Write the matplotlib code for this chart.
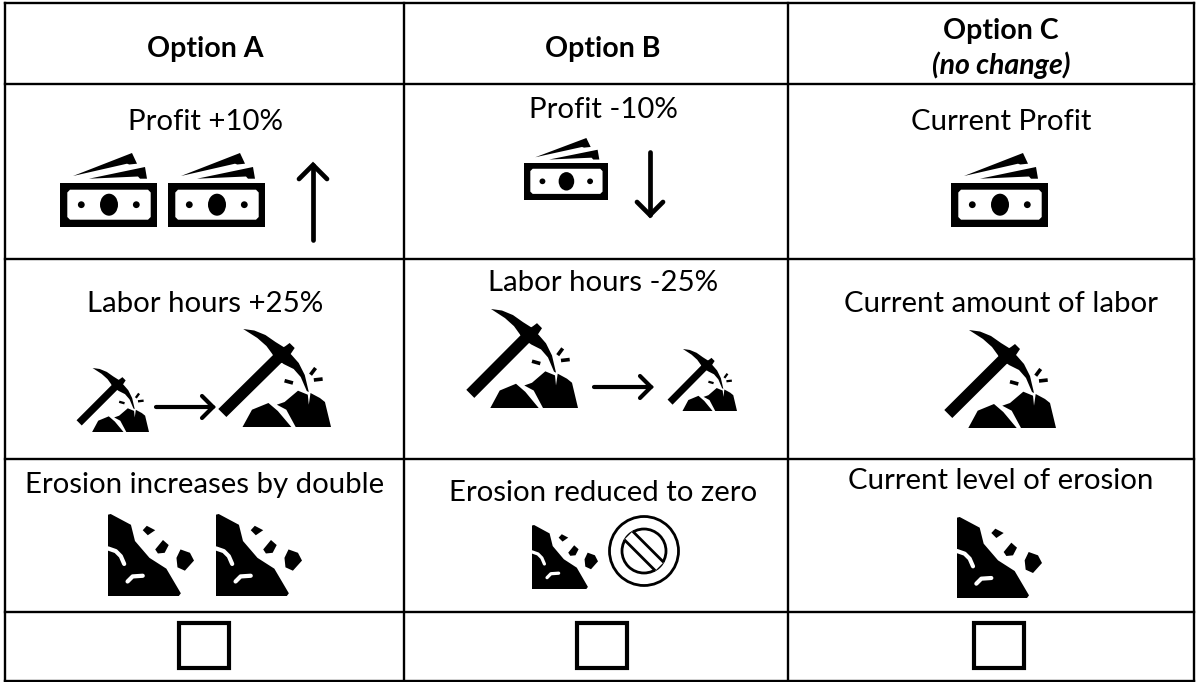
import matplotlib
matplotlib.use("Agg")
import matplotlib.pyplot as plt
from matplotlib.patches import Ellipse, Circle, Polygon, Rectangle

W, H = 1196, 682
plt.rcParams['font.family'] = ['Lato', 'Open Sans', 'DejaVu Sans']

# Table content
col_edges = [5, 404, 788, 1194]
row_edges = [3, 84, 259, 459, 612, 681]
headers = ["Option A", "Option B", "Option C"]
header_note = "(no change)"
cell_text = [
    ("Profit +10%", 205, 122), ("Profit -10%", 603, 110), ("Current Profit", 1001, 122),
    ("Labor hours +25%", 205, 304), ("Labor hours -25%", 603, 283), ("Current amount of labor", 1001, 304),
    ("Erosion increases by double", 205, 485), ("Erosion reduced to zero", 603, 493), ("Current level of erosion", 1001, 481),
]
# icon placements: left, top, width, height (pixels)
money_icons = [(60, 153, 97, 74), (168, 153, 97, 74), (524, 138, 84, 62), (951, 153, 97, 74)]
pick_icons = [(77, 368, 72, 64), (219, 329, 112, 98), (467, 309, 111, 99), (668, 349, 69, 62), (945, 330, 111, 98)]
erosion_icons = [(108, 514, 86, 82), (216, 514, 86, 82), (532, 525, 66, 64), (957, 517, 85, 81)]
v_arrows = [(313, 240, 165, 14), (650, 152, 215, 13)]
h_arrows = [(156, 213, 407), (594, 651, 387)]
no_sign = (644, 551, 34.5, 22)
checkboxes = [(179, 623, 50, 45), (577, 623, 50, 45), (974, 623, 50, 45)]

fig = plt.figure(figsize=(W / 100, H / 100), dpi=100)
ax = fig.add_axes([0, 0, 1, 1])
ax.set_xlim(0, W)
ax.set_ylim(H, 0)
ax.axis("off")
K = "black"


def mapper(box, uw, uh):
    x, y, w, h = box
    return lambda pts: [(x + px / uw * w, y + py / uh * h) for px, py in pts]


def poly(m, pts, color=K, z=3):
    ax.add_patch(Polygon(m(pts), closed=True, fc=color, ec="none", zorder=z))


def stroke(m, pts, lw, color=K, z=3, cap="round"):
    xs, ys = zip(*m(pts))
    ax.plot(xs, ys, color=color, lw=lw, solid_capstyle=cap, solid_joinstyle="round", zorder=z)


def money(box):
    m = mapper(box, 97, 74)
    x, y, w, h = box
    sx, sy = w / 97, h / 74
    poly(m, [(0, 30), (97, 30), (97, 74), (0, 74)])
    poly(m, [(10, 36.7), (88, 36.7), (90.7, 39.5), (90.7, 64), (88, 66.7), (10, 66.7), (7.3, 64), (7.3, 39.5)], "white", 4)
    for cx, rx, ry in [(49, 9, 11), (21.3, 3.4, 3.4), (76.3, 3.4, 3.4)]:
        ax.add_patch(Ellipse((x + cx * sx, y + 51.7 * sy), 2 * rx * sx, 2 * ry * sy, fc=K, ec="none", zorder=5))
    poly(m, [(13, 23), (72, 0), (77, 10.7), (69.3, 11.5), (67, 10.7)])
    poly(m, [(29, 25.7), (85, 14), (87, 25.7), (80, 25.7), (78, 23.5)])


def pick(box):
    m = mapper(box, 111, 98)
    poly(m, [(-0.7, 80), (7.3, 88), (65, 30.7), (57.3, 22.3)])
    poly(m, [(66, 17), (70, 14), (75, 19), (71, 25), (62, 34), (53, 25)])
    poly(m, [(24, 0), (35, 1.5), (46, 6), (56, 13), (64, 18), (72, 26), (79, 34), (85, 46), (89, 63),
             (87, 62), (81, 48), (74, 40), (64, 35), (55, 28), (47, 17), (38, 9)])
    poly(m, [(23.3, 98), (32.7, 80.7), (49, 74), (58.3, 82), (71.7, 98)])
    poly(m, [(57.3, 75.7), (65, 73), (78.3, 61.7), (88, 65.7), (89, 75.7), (90.7, 64),
             (100, 69), (105, 73), (111, 98), (76, 98), (66.7, 80.7)])
    w = 2.6 * box[2] / 111
    stroke(m, [(65, 51.7), (73.3, 54)], w, cap="butt")
    stroke(m, [(90.7, 45.7), (95.7, 39)], w, cap="butt")
    stroke(m, [(94, 51), (102.7, 50)], w, cap="butt")


def erosion(box):
    m = mapper(box, 255, 243)
    poly(m, [(0, 2), (8, 0), (68, 32), (80, 80), (123, 130), (173, 162), (216, 235), (210, 243), (0, 243)])
    lw = 3.0 * box[2] / 85
    stroke(m, [(0, 102), (23, 110), (38, 125), (48, 148)], lw, "white", 4)
    stroke(m, [(58, 200), (73, 185), (103, 183)], lw, "white", 4)
    poly(m, [(103, 48), (115, 35), (140, 48), (118, 63)])
    poly(m, [(140, 105), (163, 77), (180, 92), (168, 115), (148, 117)])
    poly(m, [(203, 130), (215, 105), (243, 115), (255, 138), (228, 168), (206, 158)])


# grid
for x in col_edges:
    ax.plot([x, x], [row_edges[0], row_edges[-1]], color=K, lw=1.7, zorder=2)
for y in row_edges:
    ax.plot([col_edges[0], col_edges[-1]], [y, y], color=K, lw=1.7, zorder=2)

# headers
for label, cx, cy in zip(headers, (205.5, 603, 1001), (49, 49, 31)):
    ax.text(cx, cy, label, ha="center", va="center", fontsize=20.5, fontweight="bold", color=K)
ax.text(1001, 65, header_note, ha="center", va="center", fontsize=20.5, fontweight="bold", fontstyle="italic", color=K)

for label, cx, cy in cell_text:
    ax.text(cx, cy, label, ha="center", va="center", fontsize=21.2, color=K)

for b in money_icons:
    money(b)
for b in pick_icons:
    pick(b)
for b in erosion_icons:
    erosion(b)

# arrows
for x, y0, y1, hw in v_arrows:
    d = 1 if y1 > y0 else -1
    ax.plot([x, x], [y0, y1], color=K, lw=3.4, solid_capstyle="round", zorder=3)
    ax.plot([x - hw, x, x + hw], [y1 - d * hw, y1, y1 - d * hw], color=K, lw=3.4,
            solid_capstyle="round", solid_joinstyle="miter", zorder=3)
for x0, x1, y in h_arrows:
    ax.plot([x0, x1], [y, y], color=K, lw=3.0, solid_capstyle="round", zorder=3)
    ax.plot([x1 - 11, x1, x1 - 11], [y - 11, y, y + 11], color=K, lw=3.0,
            solid_capstyle="round", solid_joinstyle="miter", zorder=3)

# no sign
cx, cy, r_out, r_in = no_sign
ax.add_patch(Circle((cx, cy), r_out, fc="white", ec=K, lw=2.0, zorder=3))
ax.add_patch(Circle((cx, cy), r_in, fc="none", ec=K, lw=2.0, zorder=3))
off, half = 4.2, 15.5
poly(lambda p: p, [(cx - half + off, cy - half - off), (cx + half + off, cy + half - off),
                   (cx + half - off, cy + half + off), (cx - half - off, cy - half + off)], "white", 4)
for s in (-1, 1):
    ax.plot([cx - half + s * off, cx + half + s * off], [cy - half - s * off, cy + half - s * off],
            color=K, lw=2.0, solid_capstyle="butt", zorder=5)

for x, y, w, h in checkboxes:
    ax.add_patch(Rectangle((x, y), w, h, fc="none", ec=K, lw=3.0, zorder=3))

fig.savefig("out.png", dpi=100)
